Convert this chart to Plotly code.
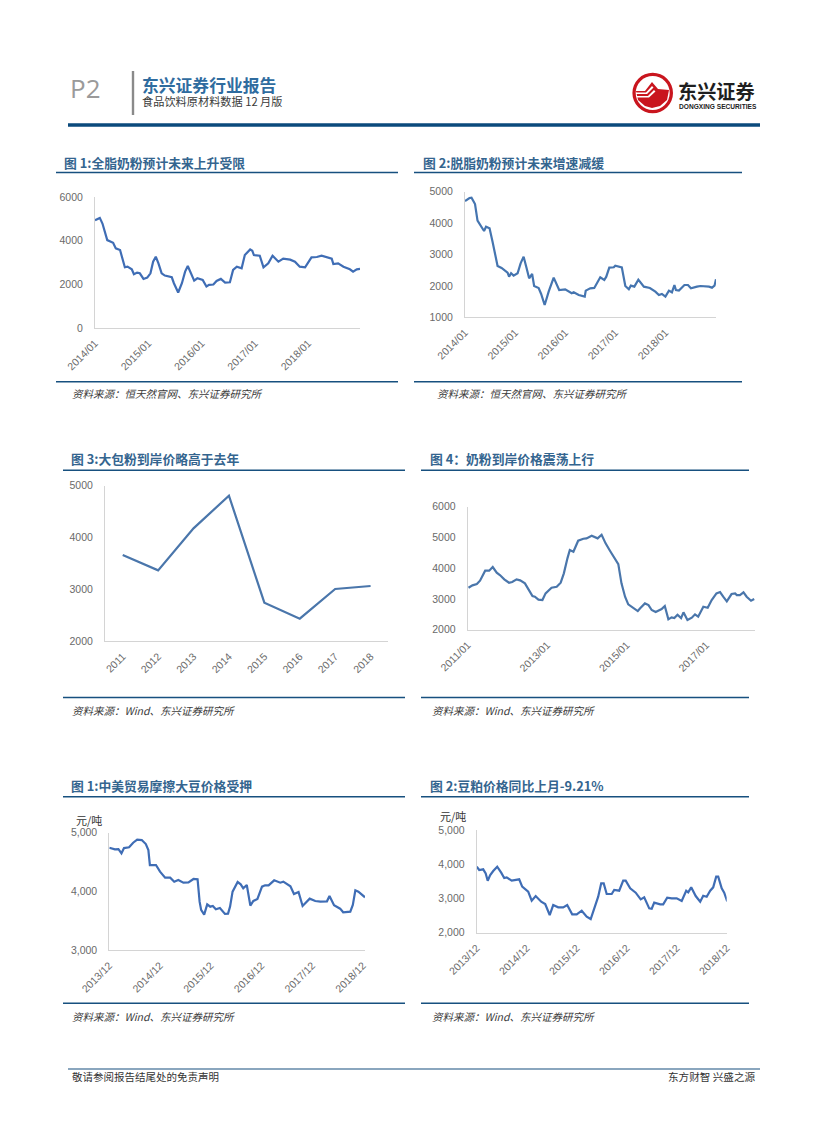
import plotly.graph_objects as go

W, H = 827, 1122
FONT = "Liberation Sans, Noto Sans CJK SC, sans-serif"
CJK = "Noto Sans CJK SC, sans-serif"

# ---------- data ----------
years1 = [2014.00,2014.09,2014.14,2014.19,2014.23,2014.34,2014.39,2014.47,2014.52,2014.56,2014.61,2014.69,2014.73,2014.79,2014.84,2014.91,2014.98,2015.04,2015.09,2015.14,2015.19,2015.25,2015.31,2015.44,2015.48,2015.56,2015.63,2015.69,2015.74,2015.79,2015.86,2015.92,2016.02,2016.09,2016.14,2016.22,2016.28,2016.36,2016.44,2016.53,2016.59,2016.66,2016.75,2016.81,2016.91,2016.95,2016.98,2017.09,2017.16,2017.25,2017.33,2017.44,2017.53,2017.66,2017.75,2017.84,2017.94,2018.06,2018.16,2018.25,2018.34,2018.44,2018.47,2018.56,2018.66,2018.78,2018.84,2018.91,2018.97]
values1 = [4937,5043,4785,4329,4025,3904,3646,3570,3114,2780,2810,2689,2461,2537,2506,2248,2309,2506,3038,3266,2962,2506,2400,2324,2051,1625,2051,2582,2840,2582,2172,2278,2203,1899,1975,1990,2157,2248,2081,2096,2658,2810,2734,3342,3600,3539,3342,3311,2780,2962,3311,3038,3175,3129,3038,2810,2780,3235,3251,3311,3235,3175,2932,2962,2810,2689,2582,2689,2704]

years2 = [2014.00,2014.09,2014.13,2014.20,2014.25,2014.31,2014.38,2014.42,2014.49,2014.55,2014.60,2014.65,2014.73,2014.80,2014.85,2014.88,2014.92,2014.97,2015.05,2015.11,2015.17,2015.23,2015.28,2015.34,2015.38,2015.47,2015.52,2015.59,2015.67,2015.77,2015.83,2015.88,2016.00,2016.13,2016.17,2016.27,2016.39,2016.41,2016.50,2016.58,2016.70,2016.78,2016.82,2016.88,2016.97,2017.00,2017.13,2017.17,2017.20,2017.27,2017.31,2017.38,2017.46,2017.57,2017.69,2017.80,2017.87,2017.93,2018.00,2018.07,2018.13,2018.18,2018.21,2018.27,2018.38,2018.45,2018.51,2018.63,2018.70,2018.87,2018.93,2018.98,2019.01]
values2 = [4703,4798,4809,4607,4077,3939,3748,3886,3833,3408,3037,2634,2570,2485,2422,2294,2401,2326,2401,2719,2931,2560,2241,2379,1997,1934,1743,1393,1817,2263,2029,1870,1891,1764,1796,1711,1658,1849,1923,1934,2273,2188,2294,2581,2592,2645,2592,2294,1997,1891,2008,1976,2199,1976,1934,1817,1711,1743,1658,1849,1796,2029,1870,1849,2029,2029,1923,1976,1997,1976,1944,2008,2210]

categories3 = ["2011","2012","2013","2014","2015","2016","2017","2018"]
values3 = [3664,3368,4178,4807,2745,2437,3009,3066]

years4 = [2011.02,2011.12,2011.23,2011.31,2011.44,2011.54,2011.63,2011.73,2011.81,2011.92,2012.04,2012.12,2012.23,2012.32,2012.44,2012.53,2012.63,2012.69,2012.78,2012.88,2012.96,2013.11,2013.24,2013.34,2013.42,2013.51,2013.57,2013.66,2013.78,2013.91,2013.99,2014.12,2014.27,2014.37,2014.47,2014.58,2014.69,2014.79,2014.87,2014.96,2015.04,2015.17,2015.28,2015.34,2015.46,2015.55,2015.63,2015.73,2015.88,2015.96,2016.05,2016.13,2016.20,2016.28,2016.37,2016.43,2016.53,2016.64,2016.72,2016.80,2016.93,2017.04,2017.14,2017.26,2017.35,2017.43,2017.52,2017.64,2017.73,2017.77,2017.85,2017.94,2018.02,2018.13,2018.21]
values4 = [3366,3442,3485,3593,3919,3919,4038,3854,3778,3637,3528,3550,3637,3604,3507,3312,3095,3073,2976,2965,3182,3366,3398,3528,3832,4320,4591,4537,4894,4959,4970,5057,4970,5089,4808,4569,4320,4135,3507,3073,2824,2694,2607,2694,2856,2802,2640,2575,2672,2770,2336,2401,2379,2488,2379,2564,2314,2390,2499,2423,2748,2715,2965,3182,3225,3073,2921,3160,3182,3127,3127,3214,3073,2943,2997]

years5 = [2013.92,2014.03,2014.10,2014.16,2014.21,2014.31,2014.39,2014.47,2014.56,2014.64,2014.69,2014.72,2014.84,2014.92,2015.02,2015.12,2015.20,2015.28,2015.38,2015.48,2015.58,2015.66,2015.70,2015.73,2015.79,2015.85,2015.91,2015.96,2016.02,2016.10,2016.20,2016.26,2016.30,2016.35,2016.45,2016.51,2016.56,2016.63,2016.70,2016.76,2016.84,2016.93,2016.99,2017.06,2017.17,2017.29,2017.35,2017.49,2017.56,2017.65,2017.73,2017.78,2017.87,2017.98,2018.08,2018.21,2018.26,2018.35,2018.47,2018.53,2018.67,2018.72,2018.77,2018.83,2018.96]
values5 = [4745,4717,4722,4649,4739,4751,4830,4881,4875,4807,4705,4450,4450,4337,4235,4235,4167,4196,4150,4156,4213,4207,3827,3686,3606,3782,3742,3754,3697,3720,3618,3623,3742,3997,4161,4122,4054,4111,3759,3839,3873,4082,4105,4105,4190,4150,4167,4088,3958,3992,3754,3799,3878,3839,3827,3833,3924,3765,3708,3646,3657,3771,4020,3997,3901]

years6 = [2013.92,2013.97,2014.05,2014.10,2014.14,2014.19,2014.25,2014.33,2014.41,2014.47,2014.52,2014.62,2014.77,2014.83,2014.95,2015.02,2015.10,2015.21,2015.29,2015.38,2015.45,2015.55,2015.65,2015.73,2015.83,2015.92,2016.02,2016.12,2016.20,2016.29,2016.35,2016.41,2016.46,2016.52,2016.62,2016.67,2016.77,2016.85,2016.90,2016.99,2017.10,2017.20,2017.27,2017.37,2017.42,2017.47,2017.59,2017.65,2017.73,2017.82,2017.92,2018.02,2018.11,2018.15,2018.21,2018.30,2018.39,2018.45,2018.52,2018.59,2018.65,2018.71,2018.75,2018.82,2018.87,2018.93]
values6 = [3929,3831,3851,3734,3519,3685,3802,3929,3753,3597,3617,3519,3558,3344,3198,2935,3071,2906,2838,2516,2808,2740,2740,2808,2536,2536,2643,2468,2399,2760,3052,3442,3442,3130,3130,3247,3227,3519,3519,3295,3169,2974,3032,2711,2701,2877,2828,2828,3023,3003,3003,2925,3227,3179,3325,3071,2906,3081,3052,3227,3325,3636,3636,3295,3169,2916]

ticks1 = [2014,2015,2016,2017,2018]
ticktext1 = ["2014/01","2015/01","2016/01","2017/01","2018/01"]
ticks4 = [2011,2013,2015,2017]
ticktext4 = ["2011/01","2013/01","2015/01","2017/01"]
ticks5 = [2013.92,2014.92,2015.92,2016.92,2017.92,2018.92]
ticktext5 = ["2013/12","2014/12","2015/12","2016/12","2017/12","2018/12"]

titles = ["图 1:全脂奶粉预计未来上升受限","图 2:脱脂奶粉预计未来增速减缓","图 3:大包粉到岸价略高于去年",
          "图 4：奶粉到岸价格震荡上行","图 1:中美贸易摩擦大豆价格受押","图 2:豆粕价格同比上月-9.21%"]
source_a = "资料来源：恒天然官网、东兴证券研究所"
source_b = "资料来源：Wind、东兴证券研究所"

# ---------- layout in page pixels ----------
px = lambda x: x / W
py = lambda y: 1 - y / H

panels = [
 dict(box=(95,360,197,328), xr=[2014,2018.97], yr=[0,6000], x=years1, y=values1, tv=ticks1, tt=ticktext1,
      yv=[0,2000,4000,6000], yt=["0","2000","4000","6000"], c="#3f6db5"),
 dict(box=(465,716,191.7,317.3), xr=[2014,2019.01], yr=[1000,5000], x=years2, y=values2, tv=ticks1, tt=ticktext1,
      yv=[1000,2000,3000,4000,5000], yt=["1000","2000","3000","4000","5000"], c="#4575b0"),
 dict(box=(105,388.3,485.7,641.3), xr=[-0.5,7.5], yr=[2000,5000], x=list(range(len(categories3))), y=values3,
      tv=list(range(len(categories3))), tt=categories3,
      yv=[2000,3000,4000,5000], yt=["2000","3000","4000","5000"], c="#4a76ab"),
 dict(box=(467.7,755,506.7,629.7), xr=[2011,2018.23], yr=[2000,6000], x=years4, y=values4, tv=ticks4, tt=ticktext4,
      yv=[2000,3000,4000,5000,6000], yt=["2000","3000","4000","5000","6000"], c="#4a76ab"),
 dict(box=(109.3,365,832.7,950.3), xr=[2013.92,2018.96], yr=[3000,5000], x=years5, y=values5, tv=ticks5, tt=ticktext5,
      yv=[3000,4000,5000], yt=["3,000","4,000","5,000"], c="#3f6db5"),
 dict(box=(476.7,726.7,830,932.7), xr=[2013.92,2018.92], yr=[2000,5000], x=years6, y=values6, tv=ticks5, tt=ticktext5,
      yv=[2000,3000,4000,5000], yt=["2,000","3,000","4,000","5,000"], c="#3f6db5"),
]

fig = go.Figure()
layout = {}
for i, p in enumerate(panels, 1):
    x0, x1, yt, yb = p["box"]
    s = "" if i == 1 else str(i)
    fig.add_trace(go.Scatter(x=p["x"], y=p["y"], mode="lines", xaxis="x"+s, yaxis="y"+s,
                             line=dict(color=p["c"], width=2.2), showlegend=False, hoverinfo="skip"))
    layout["xaxis"+s] = dict(domain=[px(x0), px(x1)], range=p["xr"], anchor="y"+s, tickmode="array",
                             tickvals=p["tv"], ticktext=p["tt"], tickangle=-45, showgrid=False, zeroline=False,
                             showline=True, linecolor="#d4d4d4", linewidth=1, ticks="", ticklabelstandoff=4,
                             automargin=False,
                             tickfont=dict(family=FONT, size=10.5, color="#6a6a6a"), fixedrange=True)
    layout["yaxis"+s] = dict(domain=[py(yb), py(yt)], range=p["yr"], anchor="x"+s, tickmode="array",
                             tickvals=p["yv"], ticktext=p["yt"], showgrid=False, zeroline=False,
                             showline=True, linecolor="#d4d4d4", linewidth=1, ticks="", ticklabelstandoff=9,
                             automargin=False,
                             tickfont=dict(family=FONT, size=10.5, color="#6a6a6a"), fixedrange=True)

shapes = []
def rule(x0, x1, y, color="#17507f", width=1.4):
    shapes.append(dict(type="line", xref="paper", yref="paper", x0=px(x0), x1=px(x1), y0=py(y), y1=py(y),
                       line=dict(color=color, width=width)))

rule(68, 760, 125, "#0b4a7c", 3.4)
rule(68, 760, 1069, "#174f7e", 1.2)
shapes.append(dict(type="line", xref="paper", yref="paper", x0=px(133), x1=px(133), y0=py(71), y1=py(115),
                   line=dict(color="#8a8a8a", width=2.4)))
for (a, b, t, d) in [(56,398,172.5,381.7),(414,742,172.5,381.7),(63,405,470.3,697.5),
                     (421,749,470.3,697.5),(63,405,796.8,1003.3),(421,749,796.8,1003.3)]:
    rule(a, b, t); rule(a, b, d)

# logo
def circle(cx, cy, r, fill):
    shapes.append(dict(type="circle", xref="paper", yref="paper", x0=px(cx-r), x1=px(cx+r), y0=py(cy+r), y1=py(cy-r),
                       fillcolor=fill, line=dict(width=0)))
circle(652.7, 93, 20.3, "#c9151e")
circle(652.7, 93, 17, "#ffffff")
def poly(points, fill):
    path = "M " + " L ".join(f"{px(a):.5f},{py(b):.5f}" for a, b in points) + " Z"
    shapes.append(dict(type="path", xref="paper", yref="paper", path=path, fillcolor=fill, line=dict(width=0)))
poly([(636,91),(645,91),(652,82),(658,89),(669,90),(667,100),(660,106),(652,108),(645,106),(638,100)], "#c9151e")
poly([(636,92.5),(646,92.5),(652,86),(653.5,87.5),(647,94),(636,94)], "#ffffff")
poly([(636.5,96),(648,96),(654,90),(655.5,91.5),(649,97.6),(637,97.6)], "#ffffff")

annotations = []
def label(x, y, text, size, color, font=CJK, anchor="left"):
    annotations.append(dict(xref="paper", yref="paper", x=px(x), y=py(y), text=text, showarrow=False,
                            xanchor=anchor, yanchor="middle", align=anchor, borderpad=0,
                            font=dict(family=font, size=size, color=color)))

label(69, 88, "P2", 26, "#9a9a9a", "Open Sans, Liberation Sans, sans-serif")
label(141, 85, "<b>东兴证券行业报告</b>", 16.8, "#2f6c9f")
label(141, 101.5, "食品饮料原材料数据 12 月版", 11.2, "#3a3a3a")
label(677, 90.5, "<b>东兴证券</b>", 19.2, "#1f1f1f")
label(678, 106, "<b>DONGXING SECURITIES</b>", 6.6, "#222222", "Liberation Sans, sans-serif")

tpos = [(63,162),(422,162),(70,458.5),(429,458.5),(70,785.5),(429,785.5)]
for (a, b), t in zip(tpos, titles):
    label(a, b, f"<b>{t}</b>", 12.8, "#34658f")
spos = [(71,393,source_a),(436,393,source_a),(71,710,source_b),(431,710,source_b),(71,1016,source_b),(431,1016,source_b)]
for a, b, t in spos:
    label(a, b, f"<i>{t}</i>", 10.5, "#3a3a3a")
label(75, 820, "元/吨", 11, "#333333")
label(439, 816, "元/吨", 11, "#333333")
label(71, 1076, "敬请参阅报告结尾处的免责声明", 10.5, "#333333")
label(757, 1076, "东方财智 兴盛之源", 10.6, "#333333", anchor="right")

fig.update_layout(width=W, height=H, margin=dict(l=0, r=0, t=0, b=0, autoexpand=False),
                  paper_bgcolor="white", plot_bgcolor="white",
                  shapes=shapes, annotations=annotations, showlegend=False, **layout)
fig.write_html("out.html", config={"displayModeBar": False},
               post_script="document.body.style.margin='0';document.body.style.padding='0';")
